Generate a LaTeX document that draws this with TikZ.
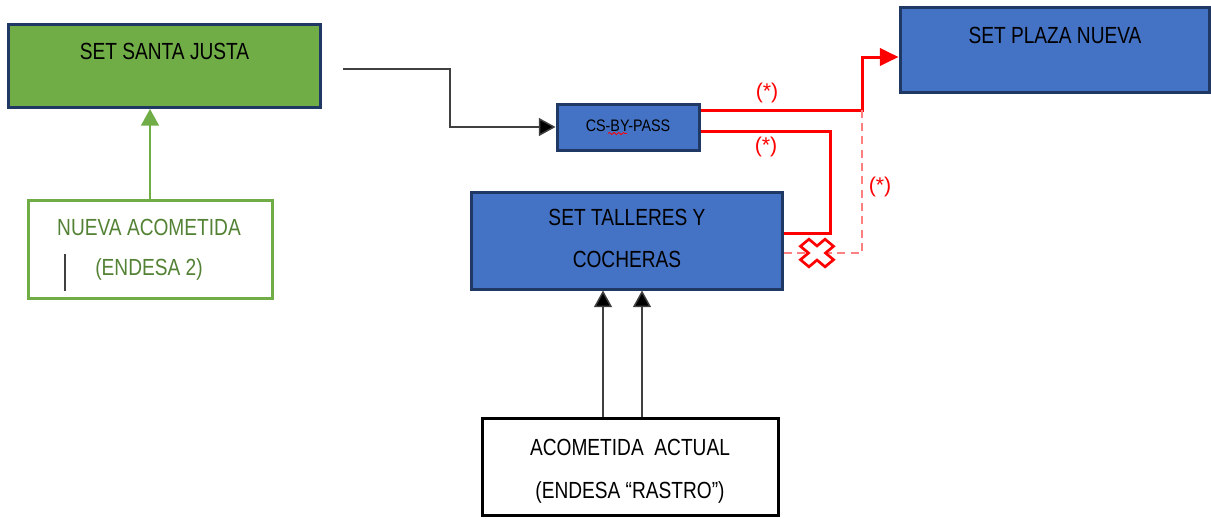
\documentclass[tikz,border=0pt]{standalone}
\usepackage{fontspec}
\setmainfont{Liberation Sans}
\usepackage{graphicx}
\usetikzlibrary{arrows.meta,fit,calc,decorations.pathmorphing}
\definecolor{sjgreen}{HTML}{70AD47}
\definecolor{txtgreen}{HTML}{548235}
\definecolor{boxblue}{HTML}{4472C4}
\definecolor{navy}{HTML}{1F3864}
\definecolor{lightred}{HTML}{FF8080}
\definecolor{linegray}{HTML}{404040}
\newcommand{\nar}[1]{\scalebox{0.82}[1]{#1}}
\newcommand{\narcs}[1]{\scalebox{0.86}[1]{#1}}
\begin{document}
\begin{tikzpicture}[x=0.75pt,y=-0.75pt,
  box/.style={inner sep=0pt, line width=2.25pt, draw=navy},
  bluebox/.style={box, fill=boxblue},
  greenbox/.style={box, fill=sjgreen},
  outlinegreen/.style={inner sep=0pt, line width=2.25pt, draw=sjgreen, fill=white},
  outlineblack/.style={inner sep=0pt, line width=2.25pt, draw=black, fill=white},
  lbl/.style={font=\fontsize{17.5}{21}\selectfont, inner sep=0pt, anchor=center},
  smalllbl/.style={font=\fontsize{12.5}{15}\selectfont, inner sep=0pt, anchor=center},
  star/.style={font=\fontsize{16}{19}\selectfont, inner sep=0pt, anchor=center, text=red},
  redline/.style={draw=red, line width=2.25pt},
  dashline/.style={draw=lightred, line width=1.1pt, dash pattern=on 6pt off 4pt},
  blackarrow/.style={draw=linegray, line width=1.1pt, -{Triangle[length=12.5pt,width=13.5pt,fill=black]}},
  greenarrow/.style={draw=sjgreen, line width=1.1pt, -{Triangle[length=12.5pt,width=13.5pt]}},
  redarrow/.style={redline, -{Triangle[length=14pt,width=13pt]}},
  crossmark/.style={draw=red, line width=2pt, fill=white, line join=miter}
]
\useasboundingbox (0,0) rectangle (1211,518);

% boxes
\node[greenbox, fit={(8.5,24.5) (320.5,107.5)}] (sj) {};
\node[bluebox, fit={(900,7.5) (1209.5,92)}] (pn) {};
\node[bluebox, fit={(557,104) (699,150)}] (cs) {};
\node[bluebox, fit={(471,192) (782.5,289)}] (tc) {};
\node[outlinegreen, fit={(28,200) (272,298)}] (na) {};
\node[outlineblack, fit={(482,418) (778,515)}] (aa) {};

% texts
\node[lbl] (sjt) at (164.5,51) {\nar{SET SANTA JUSTA}};
\node[lbl] (pnt) at (1055,35) {\nar{SET PLAZA NUEVA}};
\node[smalllbl] (cst) at (628,126) {\narcs{CS-BY-PASS}};
\node[lbl] (tct1) at (627,217) {\nar{SET TALLERES Y}};
\node[lbl] (tct2) at (627,259) {\nar{COCHERAS}};
\node[lbl, text=txtgreen] (nat1) at (149,227) {\nar{NUEVA ACOMETIDA}};
\node[lbl, text=txtgreen] (nat2) at (149,269) {\nar{(ENDESA 2)}};
\node[lbl] (aat1) at (630,447) {\nar{ACOMETIDA\ \ ACTUAL}};
\node[lbl] (aat2) at (630,492) {\nar{(ENDESA “RASTRO”)}};

% red labels
\node[star] (s1) at (767,93) {(*)};
\node[star] (s2) at (766,147) {(*)};
\node[star] (s3) at (880,187) {(*)};

% spell-check underline and cursor bar
\coordinate (w1) at (608,133.5);
\coordinate (w2) at (627,133.5);
\draw[red, line width=0.6pt, decorate, decoration={snake, amplitude=0.8pt, segment length=3.5pt}] (w1) -- (w2);
\coordinate (cb1) at (65,254);
\coordinate (cb2) at (65,291);
\draw[linegray, line width=0.9pt] (cb1) -- (cb2);

% green connector
\draw[greenarrow] (na.north) -- (na.north |- sj.south);

% black connector Santa Justa -> CS-BY-PASS
\coordinate (bstart) at (343,69);
\coordinate (bbend) at (450,69);
\draw[blackarrow] (bstart) -- (bbend) |- (cs.west);

% red connectors
\coordinate (r1s) at ($(cs.east)+(0,-17)$);
\coordinate (j1) at (862,110);
\coordinate (j2) at (862,57);
\draw[redarrow] (r1s) -- (j1) -- (j2) -- (j2 -| pn.west);

\coordinate (r2s) at ($(cs.east)+(0,4)$);
\coordinate (k1) at (830,131);
\coordinate (k2) at (830,233);
\draw[redline] (r2s) -- (k1) -- (k2) -- (k2 -| tc.east);

\coordinate (d1) at ($(tc.east)+(0,12.5)$);
\coordinate (d2) at (862,253);
\draw[dashline] (d1) -- (d2) -- (j1);

% cross mark
\begin{scope}[shift={(817,253)}, xscale=1.2, rotate=45]
  \draw[crossmark] (-5,14.5) -- (5,14.5) -- (5,5) -- (14.5,5) -- (14.5,-5) -- (5,-5)
    -- (5,-14.5) -- (-5,-14.5) -- (-5,-5) -- (-14.5,-5) -- (-14.5,5) -- (-5,5) -- cycle;
\end{scope}

% arrows from Acometida actual to Talleres
\coordinate (a1) at ($(aa.north)+(-27,0)$);
\coordinate (a2) at ($(aa.north)+(12,0)$);
\draw[blackarrow] (a1) -- (a1 |- tc.south);
\draw[blackarrow] (a2) -- (a2 |- tc.south);
\end{tikzpicture}
\end{document}
